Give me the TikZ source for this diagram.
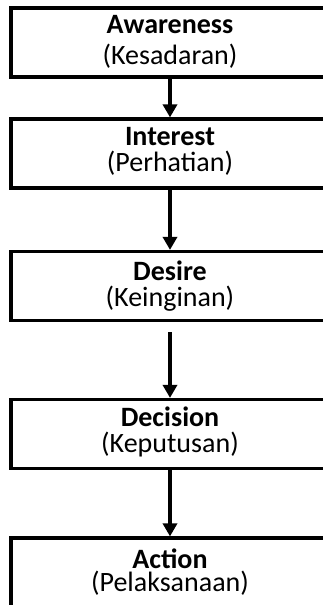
\documentclass[tikz,border=0pt]{standalone}
\usepackage{fontspec}
\setmainfont{Carlito}
\usetikzlibrary{arrows.meta}
\begin{document}
\begin{tikzpicture}[x=1pt,y=-1pt,
  stage/.style={draw=black,line width=3.2pt,minimum width=318pt,minimum height=69pt,inner sep=0pt},
  title/.style={font=\fontsize{28}{32}\selectfont\bfseries,anchor=base,inner sep=0pt},
  subtitle/.style={font=\fontsize{28}{32}\selectfont,anchor=base,inner sep=0pt},
  flow/.style={line width=3.4pt,-{Triangle[width=14pt,length=13pt]}}]
\useasboundingbox (0,0) rectangle (322,605);
% stage boxes
\node[stage] (b1) at (170,42.5) {};
\node[stage] (b2) at (170,153.5) {};
\node[stage] (b3) at (170,286) {};
\node[stage] (b4) at (170,434) {};
\node[stage] (b5) at (170,572.5) {};
% labels
\node[title] (t1) at (170,33) {Awareness};
\node[subtitle] (s1) at (170,64) {(Kesadaran)};
\node[title] (t2) at (170,145) {Interest};
\node[subtitle] (s2) at (170,171) {(Perhatian)};
\node[title] (t3) at (170,280) {Desire};
\node[subtitle] (s3) at (170,306) {(Keinginan)};
\node[title] (t4) at (170,426) {Decision};
\node[subtitle] (s4) at (170,452) {(Keputusan)};
\node[title] (t5) at (170,568) {Action};
\node[subtitle] (s5) at (170,591) {(Pelaksanaan)};
% arrows
\draw[flow] (b1.south) -- (b2.north);
\draw[flow] (b2.south) -- (b3.north);
\draw[flow,shorten <=10pt] (b3.south) -- (b4.north);
\draw[flow] (b4.south) -- (b5.north);
\end{tikzpicture}
\end{document}
